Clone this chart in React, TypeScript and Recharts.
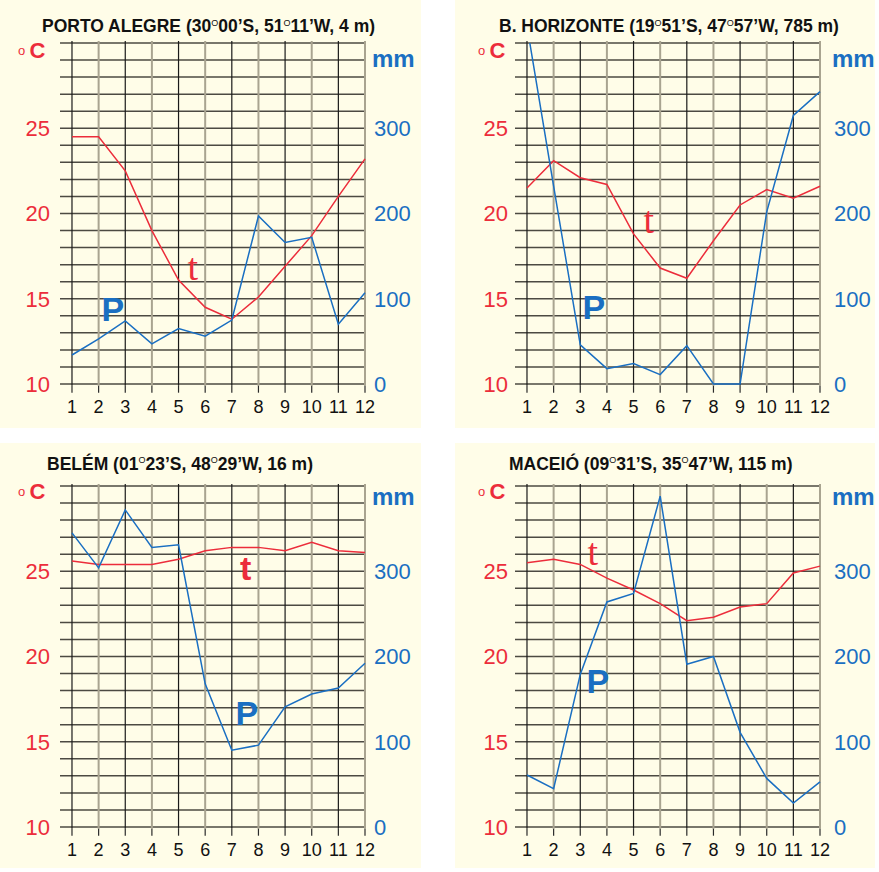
import React from "react";
import { LineChart, Line, XAxis, YAxis, CartesianGrid } from "recharts";

// monthly climate normals
const MONTHS = [1, 2, 3, 4, 5, 6, 7, 8, 9, 10, 11, 12];
const TEMP_TICKS = [10, 11, 12, 13, 14, 15, 16, 17, 18, 19, 20, 21, 22, 23, 24, 25, 26, 27, 28, 29, 30];
const MM_TICKS = [0, 100, 200, 300];

const PORTO_T = [24.5, 24.5, 22.5, 19.0, 16.1, 14.5, 13.8, 15.1, 16.9, 18.7, 21.0, 23.2];
const PORTO_P = [34, 53, 74, 47, 65, 56, 75, 197, 166, 172, 70, 107];
const BH_T = [21.5, 23.1, 22.1, 21.7, 18.8, 16.8, 16.2, 18.4, 20.5, 21.4, 20.9, 21.6];
const BH_P = [420, 232, 46, 18, 24, 11, 45, 0, 0, 202, 315, 343];
const BELEM_T = [25.6, 25.4, 25.4, 25.4, 25.7, 26.2, 26.4, 26.4, 26.2, 26.7, 26.2, 26.1];
const BELEM_P = [345, 304, 372, 328, 331, 168, 90, 96, 141, 156, 163, 192];
const MACEIO_T = [25.5, 25.7, 25.4, 24.6, 23.9, 23.1, 22.1, 22.3, 22.9, 23.1, 24.9, 25.3];
const MACEIO_P = [61, 45, 179, 264, 274, 388, 191, 200, 111, 57, 28, 53];

const SANS = "'Liberation Sans', Arial, sans-serif";
const SERIF = "'Liberation Serif', 'Times New Roman', serif";
const RED = "#ec2d3b";
const BLUE = "#1a6fc2";
const CREAM = "#fffde8";

interface Panel {
  name: string;
  lat: [string, string];
  lon: [string, string];
  alt: string;
  temp: number[];
  rain: number[];
  left: number;
  top: number;
  width: number;
  height: number;
  titleX: number;
  titleBase: number;
  unitShift: number;
  unitBase: number;
  mmBase: number;
  leftGap: number;
  rightGap: number;
  t: { x: number; base: number; serif: boolean };
  p: { x: number; base: number };
}

const PANELS: Panel[] = [
  {
    name: "PORTO ALEGRE", lat: ["30", "00"], lon: ["51", "11"], alt: "4 m",
    temp: PORTO_T, rain: PORTO_P,
    left: 0, top: 0, width: 421, height: 428,
    titleX: 42, titleBase: 33.3, unitShift: 0, unitBase: 59, mmBase: 67,
    leftGap: 10, rightGap: 9,
    t: { x: 187.5, base: 280, serif: true }, p: { x: 101.5, base: 321 },
  },
  {
    name: "B. HORIZONTE", lat: ["19", "51"], lon: ["47", "57"], alt: "785 m",
    temp: BH_T, rain: BH_P,
    left: 455, top: 0, width: 420, height: 428,
    titleX: 44, titleBase: 33.3, unitShift: 5, unitBase: 59, mmBase: 67,
    leftGap: 7, rightGap: 14,
    t: { x: 188.5, base: 233, serif: true }, p: { x: 127.5, base: 319 },
  },
  {
    name: "BELÉM", lat: ["01", "23"], lon: ["48", "29"], alt: "16 m",
    temp: BELEM_T, rain: BELEM_P,
    left: 0, top: 443, width: 421, height: 425,
    titleX: 47, titleBase: 27.7, unitShift: 0, unitBase: 57, mmBase: 62,
    leftGap: 10, rightGap: 9,
    t: { x: 241, base: 137, serif: false }, p: { x: 235.5, base: 282 },
  },
  {
    name: "MACEIÓ", lat: ["09", "31"], lon: ["35", "47"], alt: "115 m",
    temp: MACEIO_T, rain: MACEIO_P,
    left: 455, top: 443, width: 420, height: 425,
    titleX: 54, titleBase: 27.7, unitShift: 5, unitBase: 57, mmBase: 62,
    leftGap: 7, rightGap: 14,
    t: { x: 132.5, base: 122, serif: true }, p: { x: 131.5, base: 250 },
  },
];

// top of a line-height:1 text box so that its baseline lands on `base`
const topFor = (base: number, size: number, serif = false) => base - (serif ? 0.8375 : 0.8465) * size;

function Deg() {
  return <span style={{ fontSize: 9, fontWeight: 400, position: "relative", top: -6.6 }}>O</span>;
}

function ClimateChart({ c }: { c: Panel }) {
  const rows = MONTHS.map((m, i) => ({ m, t: c.temp[i], p: c.rain[i] }));
  const rightW = c.width - 365;
  const xAxisH = 30;
  // plot runs a hair below the 10 °C / 0 mm line so a zero-rain stroke is not clipped
  const plotBottom = 385.7;
  const abs = (x: number, y: number): React.CSSProperties => ({ position: "absolute", left: x, top: y, lineHeight: 1, whiteSpace: "nowrap" });

  return (
    <div style={{ position: "absolute", left: c.left, top: c.top, width: c.width, height: c.height, background: CREAM }}>
      <div style={{ ...abs(c.titleX, topFor(c.titleBase, 17.5)), fontFamily: SANS, fontWeight: 700, fontSize: 17.5, color: "#111" }}>
        {c.name} ({c.lat[0]}<Deg />{c.lat[1]}’S, {c.lon[0]}<Deg />{c.lon[1]}’W, {c.alt})
      </div>
      <div style={{ ...abs(18 + c.unitShift, topFor(c.unitBase - 3.5, 13)), fontFamily: SANS, fontSize: 13, color: RED }}>o</div>
      <div style={{ ...abs(29.5 + c.unitShift, topFor(c.unitBase, 22)), fontFamily: SANS, fontWeight: 700, fontSize: 22, color: RED }}>C</div>
      <div style={{ ...abs(365 + c.rightGap - 2, topFor(c.mmBase, 24)), fontFamily: SANS, fontWeight: 700, fontSize: 24, color: BLUE }}>mm</div>

      <LineChart
        width={c.width}
        height={c.height}
        data={rows}
        margin={{ top: 43, right: 0, left: 0, bottom: c.height - plotBottom - xAxisH }}
      >
        <CartesianGrid
          yAxisId="t"
          syncWithTicks
          stroke="#4c4a42"
          strokeWidth={1.5}
          vertical={(props: any) => {
            const dark = props.index % 2 === 0;
            return (
              <line
                key={props.key}
                x1={props.x1}
                y1={props.y1 - 2}
                x2={props.x2}
                y2={props.y2}
                stroke={dark ? "#1a1a1a" : "#a9a490"}
                strokeWidth={dark ? 1.2 : 2}
              />
            );
          }}
        />
        <XAxis
          dataKey="m"
          type="number"
          domain={[0.55, 12]}
          ticks={MONTHS}
          interval={0}
          height={xAxisH}
          axisLine={false}
          tickLine={{ stroke: "#2a2a2a", strokeWidth: 1.2 }}
          tickSize={7}
          tickMargin={8}
          tick={{ fill: "#111", fontSize: 18, fontFamily: SANS }}
        />
        <YAxis
          yAxisId="t"
          orientation="left"
          width={60}
          domain={[9.9, 30]}
          allowDataOverflow
          ticks={TEMP_TICKS}
          interval={0}
          axisLine={false}
          tickLine={false}
          tickSize={0}
          tickMargin={c.leftGap}
          tickFormatter={(v: number) => (v % 5 === 0 && v < 30 ? String(v) : "")}
          tick={{ fill: RED, fontSize: 22, fontFamily: SANS }}
        />
        <YAxis
          yAxisId="p"
          orientation="right"
          width={rightW}
          domain={[-2, 400]}
          allowDataOverflow
          ticks={MM_TICKS}
          interval={0}
          axisLine={false}
          tickLine={false}
          tickSize={0}
          tickMargin={c.rightGap}
          tick={{ fill: BLUE, fontSize: 22, fontFamily: SANS }}
        />
        <Line yAxisId="t" type="linear" dataKey="t" stroke={RED} strokeWidth={1.5} dot={false} isAnimationActive={false} />
        <Line yAxisId="p" type="linear" dataKey="p" stroke={BLUE} strokeWidth={1.5} dot={false} isAnimationActive={false} />
      </LineChart>

      {c.t.serif ? (
        <div style={{ ...abs(c.t.x, topFor(c.t.base, 38, true)), fontFamily: SERIF, fontSize: 38, color: RED }}>t</div>
      ) : (
        <div style={{ ...abs(c.t.x - 1, topFor(c.t.base, 34)), fontFamily: SANS, fontWeight: 700, fontSize: 34, color: RED }}>t</div>
      )}
      <div style={{ ...abs(c.p.x, topFor(c.p.base, 34)), fontFamily: SANS, fontWeight: 700, fontSize: 34, color: BLUE }}>P</div>
    </div>
  );
}

export default function App() {
  return (
    <div style={{ position: "relative", width: 875, height: 868 }}>
      <style>{"body{margin:0;background:#fff}"}</style>
      {PANELS.map((c) => (
        <ClimateChart key={c.name} c={c} />
      ))}
    </div>
  );
}
